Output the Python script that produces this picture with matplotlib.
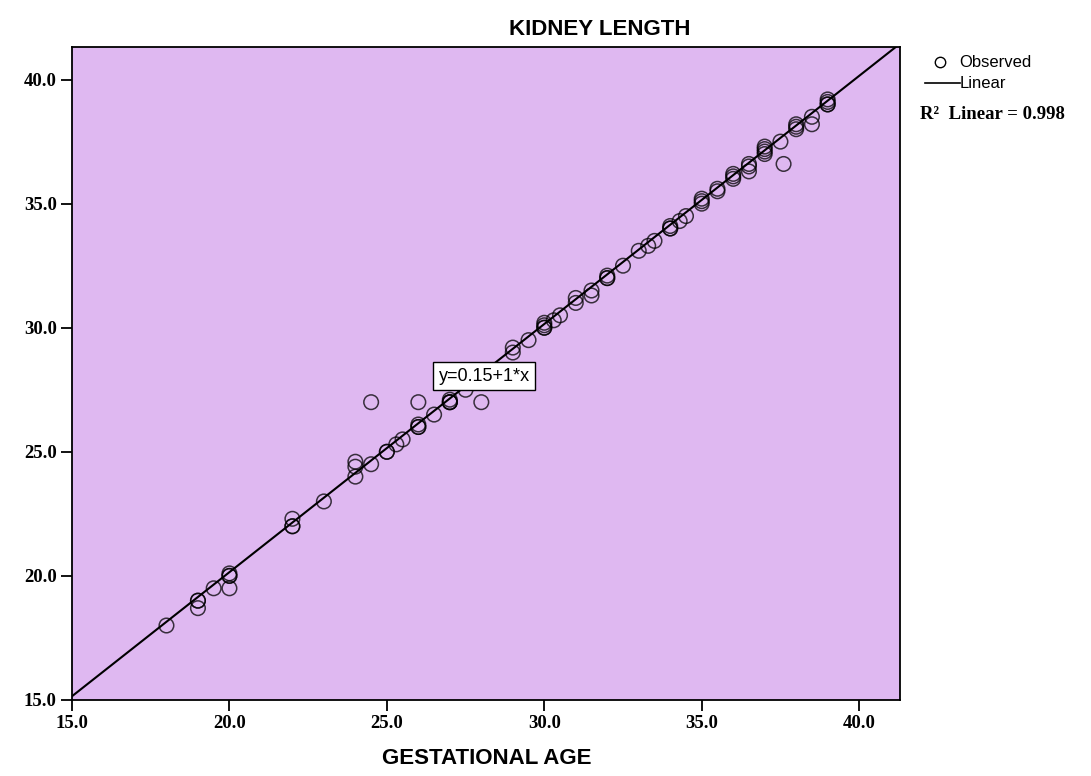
import matplotlib
matplotlib.use("Agg")
import matplotlib.pyplot as plt
import numpy as np

# observed points (gestational age, kidney length)
gest_age = [18, 19, 19, 19, 19.5, 20, 20, 20, 20, 22, 22, 22, 23,
            24, 24, 24, 24.5, 24.5, 25, 25, 25.3, 25.5, 26, 26, 26, 26, 26.5,
            27, 27, 27, 27, 27.5, 28, 29, 29, 29.5, 30, 30, 30, 30, 30.3, 30.5,
            31, 31, 31.5, 31.5, 32, 32, 32, 32.5, 33, 33.3, 33.5, 34, 34, 34,
            34.3, 34.5, 35, 35, 35, 35.5, 35.5, 36, 36, 36, 36.5, 36.5, 36.5,
            37, 37, 37, 37, 37.5, 37.6, 38, 38, 38, 38.5, 38.5, 39, 39, 39, 39]
kidney_len = [18, 19, 19, 18.7, 19.5, 20, 20, 20.1, 19.5, 22.3, 22, 22, 23,
              24, 24.4, 24.6, 24.5, 27, 25, 25, 25.3, 25.5, 26, 26, 26.1, 27, 26.5,
              27, 27, 27.1, 27, 27.5, 27, 29, 29.2, 29.5, 30, 30.1, 30.2, 30, 30.3, 30.5,
              31, 31.2, 31.5, 31.3, 32, 32.1, 32, 32.5, 33.1, 33.3, 33.5, 34, 34.1, 34,
              34.3, 34.5, 35, 35.1, 35.2, 35.5, 35.6, 36, 36.1, 36.2, 36.5, 36.3, 36.6,
              37, 37.1, 37.3, 37.2, 37.5, 36.6, 38, 38.1, 38.2, 38.5, 38.2, 39, 39.1, 39.2, 39]

intercept = 0.15
slope = 1.0
r2 = 0.998
x_ticks = [15.0, 20.0, 25.0, 30.0, 35.0, 40.0]
y_ticks = [15.0, 20.0, 25.0, 30.0, 35.0, 40.0]

fig = plt.figure(figsize=(10.91, 7.76), dpi=100)
ax = fig.add_axes([0.066, 0.098, 0.759, 0.841])
ax.set_facecolor("#dfb8f1")

lo, hi = 15.0, 41.3
line_x = np.array([lo, hi])
ax.plot(line_x, intercept + slope * line_x, color="black", lw=1.5, zorder=2)
ax.scatter(gest_age, kidney_len, s=110, facecolors="none", edgecolors="black",
           linewidths=1.1, alpha=0.75, zorder=3)

ax.set_xlim(lo, hi)
ax.set_ylim(lo, hi)
ax.set_xticks(x_ticks)
ax.set_yticks(y_ticks)
ax.set_xticklabels([f"{t:.1f}" for t in x_ticks])
ax.set_yticklabels([f"{t:.1f}" for t in y_ticks])
for lab in ax.get_xticklabels() + ax.get_yticklabels():
    lab.set_fontfamily("Liberation Serif")
    lab.set_fontweight("bold")
    lab.set_fontsize(13.5)
ax.tick_params(direction="out", length=8, width=1.3, pad=3)
for sp in ax.spines.values():
    sp.set_linewidth(1.3)

ax.text(28.1, 28.05, "y=0.15+1*x", ha="center", va="center", fontsize=13,
        family="Liberation Sans",
        bbox=dict(boxstyle="square,pad=0.3", fc="white", ec="black", lw=1.0), zorder=4)

fig.text(0.55, 0.962, "KIDNEY LENGTH", ha="center", va="center", fontsize=16,
         fontweight="bold", family="Liberation Sans")
fig.text(0.446, 0.014, "GESTATIONAL AGE", ha="center", va="center", fontsize=16,
         fontweight="bold", family="Liberation Sans")
fig.texts[-1].set_y(0.015 + 0.0)
fig.texts[-1].set_va("baseline")

# legend outside on the right
fig.lines.append(plt.Line2D([0.862], [0.92], marker="o", markersize=7.5, mfc="none",
                            mec="black", transform=fig.transFigure, figure=fig))
fig.text(0.879, 0.92, "Observed", va="center", fontsize=12, family="Liberation Sans")
fig.lines.append(plt.Line2D([0.848, 0.88], [0.893, 0.893], color="black", lw=1.2,
                            transform=fig.transFigure, figure=fig))
fig.text(0.88, 0.893, "Linear", va="center", fontsize=12, family="Liberation Sans")
fig.text(0.843, 0.852, f"R\u00b2  Linear = {r2}", va="center", fontsize=13.5,
         fontweight="bold", family="Liberation Serif")

fig.savefig("out.png", dpi=100)
